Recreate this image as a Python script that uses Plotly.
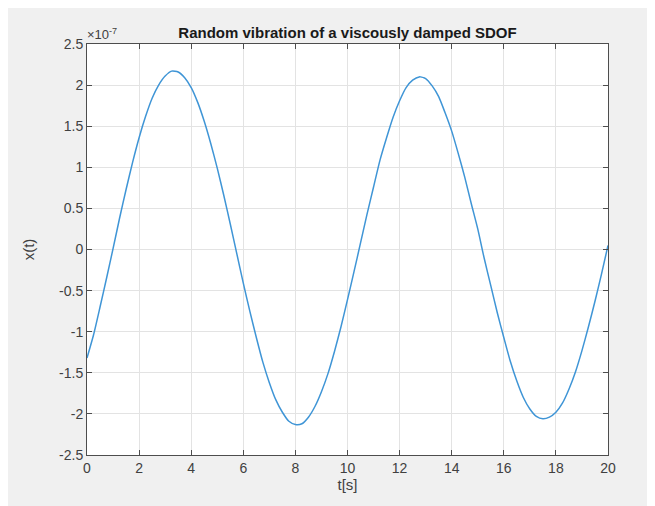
import plotly.graph_objects as go

# time samples [s]
t = [0.0, 0.25, 0.5, 0.75, 1.0, 1.25, 1.5, 1.75, 2.0, 2.25, 2.5, 2.75, 3.0, 3.25, 3.5, 3.75,
     4.0, 4.25, 4.5, 4.75, 5.0, 5.25, 5.5, 5.75, 6.0, 6.25, 6.5, 6.75, 7.0, 7.25, 7.5, 7.75,
     8.0, 8.25, 8.5, 8.75, 9.0, 9.25, 9.5, 9.75, 10.0, 10.25, 10.5, 10.75, 11.0, 11.25, 11.5,
     11.75, 12.0, 12.25, 12.5, 12.75, 13.0, 13.25, 13.5, 13.75, 14.0, 14.25, 14.5, 14.75, 15.0,
     15.25, 15.5, 15.75, 16.0, 16.25, 16.5, 16.75, 17.0, 17.25, 17.5, 17.75, 18.0, 18.25, 18.5,
     18.75, 19.0, 19.25, 19.5, 19.75, 20.0]
# response x(t) in units of 1e-7
x_e7 = [-1.32, -1.04, -0.70, -0.35, 0.01, 0.38, 0.73, 1.06, 1.36, 1.62, 1.84, 2.00, 2.11, 2.17,
        2.16, 2.09, 1.97, 1.79, 1.56, 1.29, 0.99, 0.66, 0.31, -0.05, -0.41, -0.75, -1.07, -1.37,
        -1.62, -1.83, -1.98, -2.09, -2.13, -2.12, -2.04, -1.91, -1.73, -1.51, -1.24, -0.94, -0.61,
        -0.27, 0.08, 0.43, 0.76, 1.09, 1.36, 1.61, 1.81, 1.97, 2.06, 2.10, 2.08, 1.99, 1.86, 1.66,
        1.44, 1.17, 0.88, 0.56, 0.25, -0.11, -0.44, -0.77, -1.07, -1.36, -1.60, -1.80, -1.94,
        -2.03, -2.06, -2.04, -1.98, -1.87, -1.70, -1.49, -1.23, -0.94, -0.63, -0.30, 0.05]

x_ticks = [0, 2, 4, 6, 8, 10, 12, 14, 16, 18, 20]
y_ticks = [-2.5, -2, -1.5, -1, -0.5, 0, 0.5, 1, 1.5, 2, 2.5]
y_tick_text = ["-2.5", "-2", "-1.5", "-1", "-0.5", "0", "0.5", "1", "1.5", "2", "2.5"]

FONT = "Liberation Sans, Arial, Helvetica"
W, H = 647, 498  # page body has an 8px margin in the viewer

fig = go.Figure()
fig.add_trace(go.Scatter(x=t, y=x_e7, mode="lines",
                         line=dict(color="#3f95d6", width=1.5, shape="spline", smoothing=0.6),
                         hoverinfo="skip"))

axis_common = dict(showline=True, linecolor="#4d4d4d", linewidth=1, mirror="allticks",
                   ticks="inside", ticklen=5, tickcolor="#4d4d4d", showgrid=True,
                   gridcolor="#e3e3e3", gridwidth=1, zeroline=False,
                   tickfont=dict(family=FONT, size=14, color="#404040"))

fig.update_layout(
    width=W, height=H,
    margin=dict(l=79, r=47, t=36, b=51),
    paper_bgcolor="#f0f0f0", plot_bgcolor="white",
    showlegend=False,
    xaxis=dict(range=[0, 20], tickvals=x_ticks, ticktext=[str(v) for v in x_ticks],
               title=dict(text="t[s]", font=dict(family=FONT, size=15, color="#404040"), standoff=4),
               **axis_common),
    yaxis=dict(range=[-2.5, 2.5], tickvals=y_ticks, ticktext=y_tick_text,
               title=dict(text="x(t)", font=dict(family=FONT, size=15, color="#404040"), standoff=20),
               **axis_common),
    title=dict(text="<b>Random vibration of a viscously damped SDOF</b>", x=(79 + 600) / 2 / W,
               xanchor="center", y=1 - 25 / H, yanchor="middle",
               font=dict(family=FONT, size=15, color="#1a1a1a")),
)

fig.add_annotation(text="×10<sup>-7</sup>", xref="paper", yref="paper", x=0, y=1, xanchor="left",
                   yanchor="bottom", showarrow=False, xshift=-2,
                   font=dict(family=FONT, size=13, color="#404040"))

fig.write_html("out.html")
